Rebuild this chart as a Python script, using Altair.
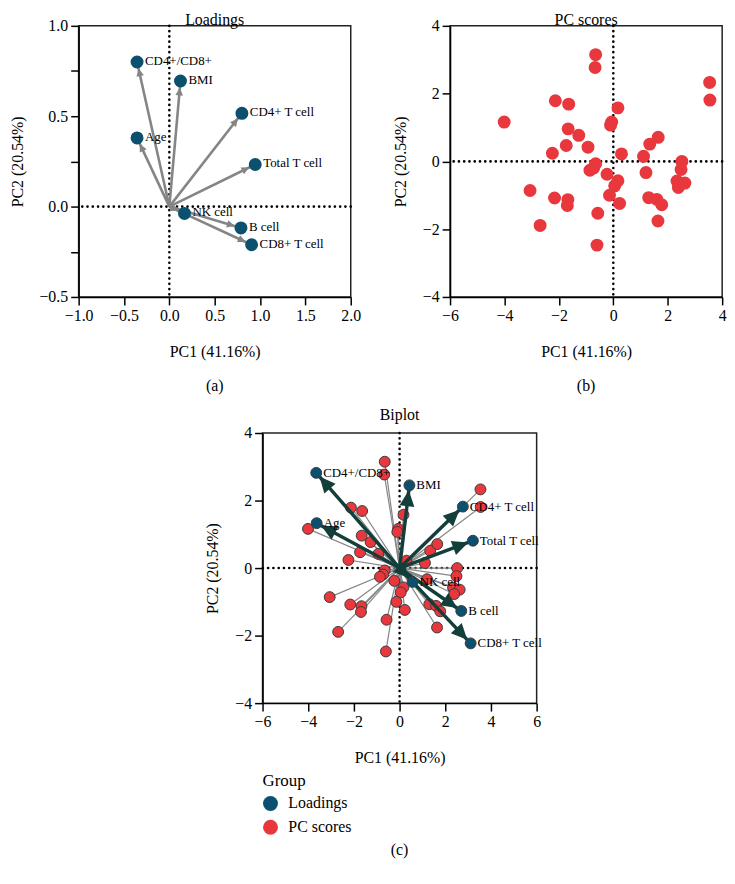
import altair as alt
import pandas as pd

FONT = "Liberation Serif"
BLUE = "#0c5070"
RED = "#e8383d"
DARK = "#133f3b"
GRAY = "#858585"

# ---------------- data ----------------
variables = ["CD4+/CD8+", "BMI", "CD4+ T cell", "Age", "Total T cell",
             "NK cell", "B cell", "CD8+ T cell"]
load_pc1 = [-0.356, 0.123, 0.80, -0.356, 0.947, 0.167, 0.79, 0.907]
load_pc2 = [0.80, 0.695, 0.516, 0.38, 0.233, -0.038, -0.118, -0.211]

bi_pc1 = [-3.65, 0.43, 2.77, -3.63, 3.21, 0.57, 2.70, 3.11]
bi_pc2 = [2.82, 2.45, 1.82, 1.33, 0.81, -0.41, -1.27, -2.23]

score_pc1 = [-4.01, -2.13, -1.64, -0.65, -0.67, 0.17, -0.06, -0.10, -1.66, -1.27,
             -1.73, -0.93, -2.24, 0.30, 1.11, 1.34, 1.65, -0.65, -0.72, -0.86,
             -0.23, 0.17, 0.05, -0.14, 0.23, 1.20, 2.52, 2.49, 2.34, 2.63,
             2.39, 1.30, 1.60, 1.78, 1.64, -0.57, -0.60, -3.06, -2.16, -1.67,
             -1.69, -2.69, 3.54, 3.55]
score_pc2 = [1.16, 1.79, 1.69, 3.15, 2.77, 1.58, 1.16, 1.07, 0.96, 0.77,
             0.47, 0.42, 0.24, 0.22, 0.15, 0.51, 0.71, -0.07, -0.19, -0.26,
             -0.38, -0.57, -0.72, -1.00, -1.24, -0.33, 0.00, -0.24, -0.58, -0.64,
             -0.77, -1.07, -1.12, -1.28, -1.76, -1.53, -2.47, -0.86, -1.08, -1.13,
             -1.30, -1.89, 2.33, 1.81]

x_title = "PC1 (41.16%)"
y_title = "PC2 (20.54%)"

load_df = pd.DataFrame({"var": variables, "pc1": load_pc1, "pc2": load_pc2})
bi_df = pd.DataFrame({"var": variables, "pc1": bi_pc1, "pc2": bi_pc2})
score_df = pd.DataFrame({"pc1": score_pc1, "pc2": score_pc2})
zero_df = pd.DataFrame({"v": [0]})

WA, HA = 274, 273
WC, HC = 276, 272

DOT = dict(color="black", strokeWidth=2.6, strokeDash=[0.1, 5.2], strokeCap="round")
HEAD_A = "M0,0.65L0.38,1.45L-0.38,1.45Z"
HEAD_C = "M0,0.5L0.75,2.1L-0.75,2.1Z"


def make_enc(xdom, ydom, xaxis, yaxis):
    xs = alt.Scale(domain=xdom, nice=False, zero=False)
    ys = alt.Scale(domain=ydom, nice=False, zero=False)

    def X(f):
        return alt.X(f, type="quantitative", scale=xs, axis=xaxis)

    def Y(f):
        return alt.Y(f, type="quantitative", scale=ys, axis=yaxis)
    return X, Y


def zero_lines(X, Y):
    base = alt.Chart(zero_df)
    return [base.mark_rule(**DOT).encode(x=X("v")),
            base.mark_rule(**DOT).encode(y=Y("v"))]


def angle_expr(xu, yu):
    return f"(atan2(datum.pc1*{xu}, datum.pc2*{yu})*180/PI+360)%360"


# ---------------- panel (a) ----------------
ax_a_x = alt.Axis(values=[-1, -0.5, 0, 0.5, 1, 1.5, 2], format=".1f", title=x_title)
ax_a_y = alt.Axis(values=[-0.5, -0.25, 0, 0.25, 0.5, 0.75, 1.0],
                  labelExpr="abs(datum.value*2 - round(datum.value*2)) < 0.001 ? format(datum.value, '.1f') : ''",
                  title=y_title)
Xa, Ya = make_enc([-1, 2], [-0.5, 1], ax_a_x, ax_a_y)
ba = alt.Chart(load_df).transform_calculate(o="0", ang=angle_expr(WA / 3, HA / 1.5))
panel_a = alt.layer(
    *zero_lines(Xa, Ya),
    ba.mark_rule(color=GRAY, strokeWidth=2.6).encode(x=Xa("o"), y=Ya("o"), x2="pc1", y2="pc2"),
    ba.mark_point(shape=HEAD_A, filled=True, size=400, color=GRAY, opacity=1, strokeWidth=0).encode(
        x=Xa("pc1"), y=Ya("pc2"), angle=alt.Angle("ang:Q", scale=None)),
    ba.mark_circle(size=170, color=BLUE, opacity=1).encode(x=Xa("pc1"), y=Ya("pc2")),
    ba.mark_text(align="left", baseline="middle", dx=8, dy=-1, font=FONT, fontSize=13,
                 color="black").encode(x=Xa("pc1"), y=Ya("pc2"), text="var:N"),
).properties(width=WA, height=HA, title=alt.Title("Loadings", offset=-10))

# ---------------- panel (b) ----------------
ax_b_x = alt.Axis(values=[-6, -4, -2, 0, 2, 4], title=x_title)
ax_b_y = alt.Axis(values=[-4, -2, 0, 2, 4], title=y_title)
Xb, Yb = make_enc([-6, 4], [-4, 4], ax_b_x, ax_b_y)
panel_b = alt.layer(
    *zero_lines(Xb, Yb),
    alt.Chart(score_df).mark_circle(size=170, color=RED, opacity=1).encode(x=Xb("pc1"), y=Yb("pc2")),
).properties(width=WA, height=HA, title=alt.Title("PC scores", offset=-10))

# ---------------- panel (c) ----------------
ax_c_x = alt.Axis(values=[-6, -4, -2, 0, 2, 4, 6], title=x_title)
ax_c_y = alt.Axis(values=[-4, -2, 0, 2, 4], title=y_title)
Xc, Yc = make_enc([-6, 6], [-4, 4], ax_c_x, ax_c_y)
color = alt.Color("Group:N",
                  scale=alt.Scale(domain=["Loadings", "PC scores"], range=[BLUE, RED]),
                  legend=alt.Legend(title="Group", orient="bottom", direction="vertical",
                                    symbolType="circle", symbolSize=225, symbolStrokeWidth=0,
                                    titleFont=FONT, titleFontSize=17, titleFontWeight="normal",
                                    titleColor="black", labelFont=FONT, labelFontSize=16,
                                    labelColor="black", rowPadding=8, titlePadding=6,
                                    offset=7, labelOffset=10))
bs = alt.Chart(score_df).transform_calculate(o="0", Group="'PC scores'")
bl = alt.Chart(bi_df).transform_calculate(o="0", Group="'Loadings'",
                                          ang=angle_expr(WC / 12, HC / 8))
panel_c = alt.layer(
    *zero_lines(Xc, Yc),
    bs.mark_rule(color=GRAY, strokeWidth=1.2).encode(x=Xc("o"), y=Yc("o"), x2="pc1", y2="pc2"),
    bs.mark_circle(size=120, opacity=1, stroke="#3a3a3a", strokeWidth=1).encode(
        x=Xc("pc1"), y=Yc("pc2"), color=color),
    bl.mark_rule(color=DARK, strokeWidth=3.5).encode(x=Xc("o"), y=Yc("o"), x2="pc1", y2="pc2"),
    bl.mark_point(shape=HEAD_C, filled=True, size=400, color=DARK, opacity=1, strokeWidth=0).encode(
        x=Xc("pc1"), y=Yc("pc2"), angle=alt.Angle("ang:Q", scale=None)),
    bl.mark_circle(size=120, opacity=1, stroke="#3a3a3a", strokeWidth=1).encode(
        x=Xc("pc1"), y=Yc("pc2"), color=color),
    bl.mark_text(align="left", baseline="middle", dx=7, font=FONT, fontSize=13,
                 color="black").encode(x=Xc("pc1"), y=Yc("pc2"), text="var:N"),
).properties(width=WC, height=HC, title=alt.Title("Biplot", offset=2))


def caption(t, w):
    return alt.Chart(pd.DataFrame({"t": [t]})).mark_text(
        font=FONT, fontSize=16, color="black").encode(text="t:N").properties(
        width=w, height=16, view=alt.ViewBackground(strokeOpacity=0))


top = alt.hconcat(
    alt.vconcat(panel_a, caption("(a)", WA), spacing=18),
    alt.vconcat(panel_b, caption("(b)", WA), spacing=18),
    spacing=30,
)
bottom = alt.vconcat(panel_c, caption("(c)", WC), spacing=6).resolve_scale(color="independent")

chart = alt.concat(
    top, bottom, columns=1, spacing=12, center={"row": False, "column": True}
).resolve_scale(color="independent").properties(
    padding=0, background="white"
).configure(font=FONT).configure_view(
    stroke="#222222", strokeWidth=1.5
).configure_axis(
    grid=False, domainColor="black", domainWidth=1.5, tickColor="black", tickWidth=1.5,
    tickSize=8, labelFont=FONT, labelFontSize=16, labelColor="black", labelPadding=3,
    labelFlush=False, titleFont=FONT, titleFontSize=16, titleFontWeight="normal",
    titleColor="black"
).configure_axisX(titlePadding=20).configure_axisY(titlePadding=14).configure_title(
    font=FONT, fontSize=16, fontWeight="normal", color="black", anchor="middle"
)

chart.save("out.html", embed_options={"renderer": "svg", "actions": False})
